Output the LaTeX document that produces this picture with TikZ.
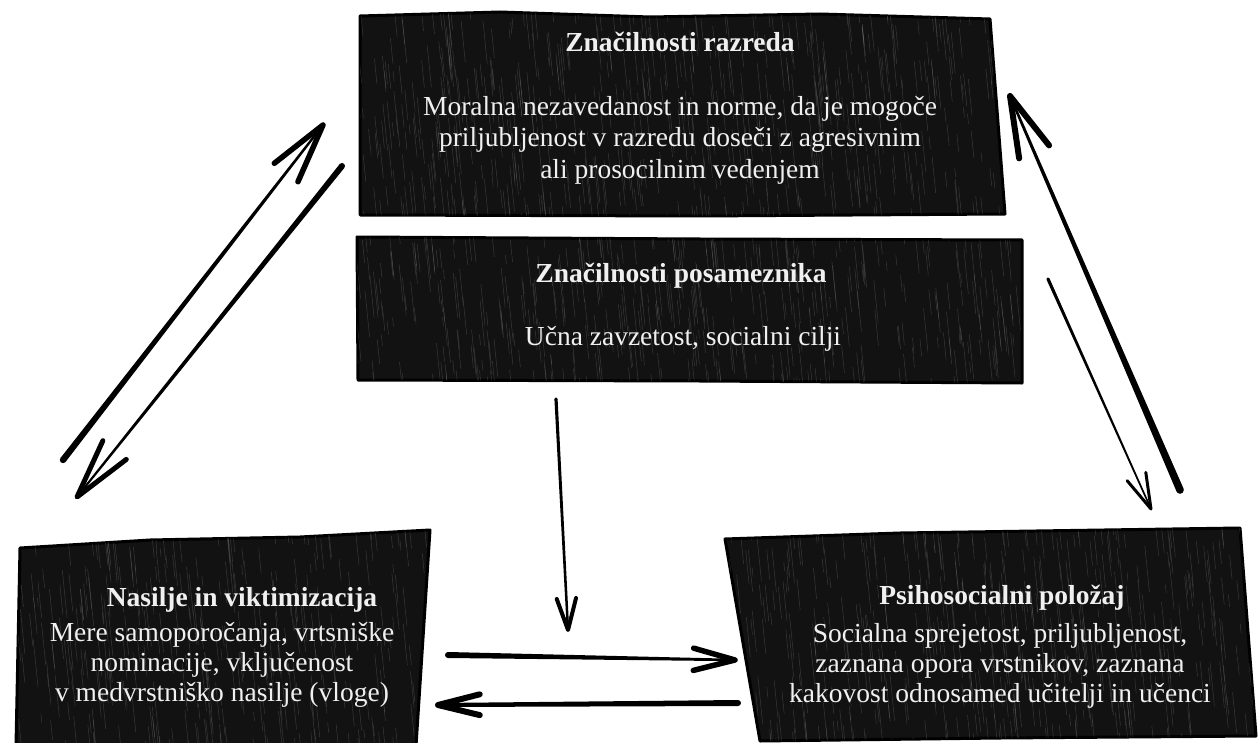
\documentclass[tikz,border=0pt]{standalone}
\usepackage{fontspec}
\setmainfont{Liberation Serif}
\usetikzlibrary{calc}
\tikzset{
  boxfill/.style={fill=black!93, draw=black, line width=3pt, line join=round},
  ttl/.style={text=white!94!black, font=\fontsize{27.5}{30}\selectfont\bfseries, align=center, inner sep=0pt},
  bdy/.style={text=white!94!black, font=\fontsize{27.5}{30}\selectfont, align=center, inner sep=0pt},
  bdywide/.style={bdy, font=\fontsize{27.5}{31.5}\selectfont},
  streak/.style={white, opacity=0.16, line width=0.5pt}
}
% tail, tip, tail half-width, tip half-width, barb length, barb line width, barb angle
\newcommand{\harrow}[7]{%
  \fill ($(#1)!#3!90:(#2)$) -- ($(#2)!#4!-90:(#1)$) -- ($(#2)!#4!90:(#1)$) -- ($(#1)!#3!-90:(#2)$) -- cycle;
  \fill (#1) circle (#3);
  \draw[line width=#6, line cap=round, line join=round] ($(#2)!#5!#7:(#1)$) -- (#2) -- ($(#2)!#5!-#7:(#1)$);
}
\newcommand{\mystreaks}[5]{%
  \foreach \k in {1,...,#5}{%
    \pgfmathsetmacro{\sx}{#1+rnd*(#2-#1)}%
    \pgfmathsetmacro{\sy}{#3+rnd*(#4-#3)}%
    \pgfmathsetmacro{\sl}{8+rnd*40}%
    \draw[streak] (\sx,\sy) -- ++(0.1*\sl,\sl);
  }%
}
\begin{document}
\begin{tikzpicture}[x=1pt, y=-1pt]
\useasboundingbox (0,0) rectangle (1260,743);
\fill[white] (0,0) rectangle (1260,743);
\pgfmathsetseed{7}

% ---------- boxes ----------
\path[boxfill] (360,16) -- (500,12) -- (650,17) -- (820,14) -- (990,19) -- (1005,214) -- (700,216) -- (360,215) -- cycle;
\begin{scope}
  \clip (360,16) -- (500,12) -- (650,17) -- (820,14) -- (990,19) -- (1005,214) -- (700,216) -- (360,215) -- cycle;
  \mystreaks{350}{1000}{-10}{215}{600}
\end{scope}

\path[boxfill] (357,237) -- (700,239) -- (1022,240) -- (1022,383) -- (700,381) -- (358,380) -- cycle;
\begin{scope}
  \clip (357,237) -- (700,239) -- (1022,240) -- (1022,383) -- (700,381) -- (358,380) -- cycle;
  \mystreaks{340}{1020}{210}{380}{480}
\end{scope}

\path[boxfill] (20,548) -- (150,540) -- (300,537) -- (430,530) -- (416,746) -- (16,746) -- cycle;
\begin{scope}
  \clip (20,548) -- (150,540) -- (300,537) -- (430,530) -- (416,746) -- (16,746) -- cycle;
  \mystreaks{0}{430}{500}{743}{400}
\end{scope}

\path[boxfill] (725,539) -- (900,533) -- (1240,528) -- (1256,736) -- (1000,738) -- (760,741) -- cycle;
\begin{scope}
  \clip (725,539) -- (900,533) -- (1240,528) -- (1256,736) -- (1000,738) -- (760,741) -- cycle;
  \mystreaks{700}{1256}{500}{740}{520}
\end{scope}

% ---------- texts ----------
\node[ttl] (tA) at (680,42) {Značilnosti razreda};
\node[bdywide] (bA) at (680,140) {Moralna nezavedanost in norme, da je mogoče\\priljubljenost v razredu doseči z agresivnim\\ali prosocilnim vedenjem};
\node[ttl] (tB) at (681,276) {Značilnosti posameznika};
\node[bdy] (bB) at (683,339) {Učna zavzetost, socialni cilji};
\node[ttl] (tC) at (242,600) {Nasilje in viktimizacija};
\node[bdy] (bC) at (222,665) {Mere samoporočanja, vrtsniške\\nominacije, vključenost\\v medvrstniško nasilje (vloge)};
\node[ttl] (tD) at (1002,598) {Psihosocialni položaj};
\node[bdy] (bD) at (1000,666) {Socialna sprejetost, priljubljenost,\\zaznana opora vrstnikov, zaznana\\kakovost odnosamed učitelji in učenci};

% ---------- arrow end points ----------
\coordinate (l1s) at (63,460);   \coordinate (l1e) at (323,125);
\coordinate (l2s) at (342,166);  \coordinate (l2e) at (77,497);
\coordinate (r1s) at (1180,490); \coordinate (r1e) at (1010,96);
\coordinate (r2s) at (1048,279); \coordinate (r2e) at (1151,509);
\coordinate (vs) at (556,399);   \coordinate (ve) at (568,630);
\coordinate (h1s) at (448,655);  \coordinate (h1e) at (735,660);
\coordinate (h2s) at (738,703);  \coordinate (h2e) at (438,705);

% ---------- arrows ----------
\harrow{l1s}{l1e}{3.2pt}{1.1pt}{62pt}{5.5pt}{14}
\harrow{l2s}{l2e}{3pt}{1pt}{62pt}{5pt}{14}
\harrow{r1s}{r1e}{3.8pt}{1.2pt}{63pt}{6pt}{15}
\harrow{r2s}{r2e}{1.6pt}{0.8pt}{37pt}{3pt}{16}
\harrow{vs}{ve}{1.6pt}{1.2pt}{33pt}{4pt}{17}
\harrow{h1s}{h1e}{3pt}{1.2pt}{43pt}{5.5pt}{15}
\harrow{h2s}{h2e}{3pt}{2pt}{43pt}{6pt}{14}
\end{tikzpicture}
\end{document}
